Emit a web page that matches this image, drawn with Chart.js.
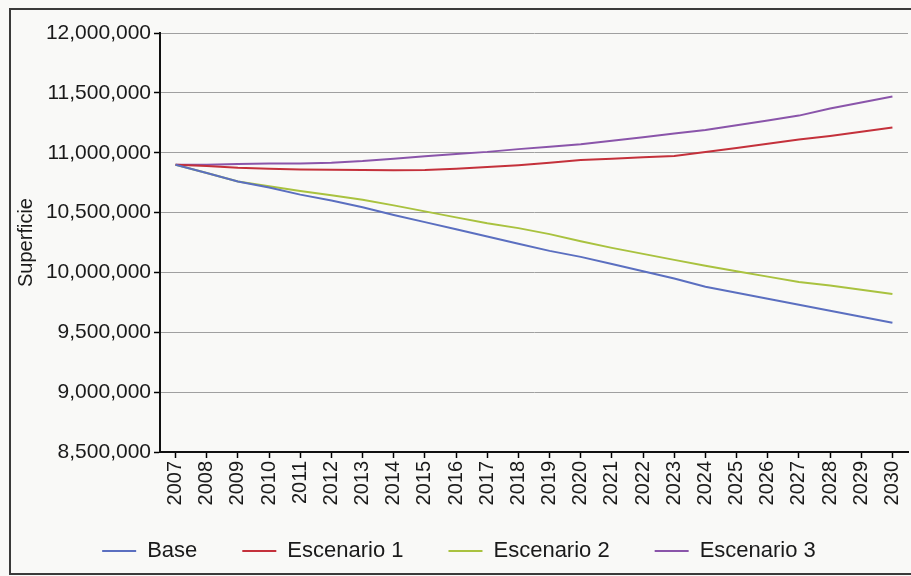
<!DOCTYPE html>
<html>
<head>
<meta charset="utf-8">
<script src="https://cdn.jsdelivr.net/npm/chart.js@4"></script>
<style>
  html, body { margin: 0; padding: 0; background: #f9f9f7; overflow: hidden; }
  #wrap { position: relative; width: 911px; height: 576px; }
  #frame { position: absolute; left: 9px; top: 8px; width: 930px; height: 563px;
           border: 2px solid #3a3a3a; pointer-events: none; }
  canvas { position: absolute; left: 0; top: 0; }
</style>
</head>
<body>
<div id="wrap">
  <canvas id="c" width="911" height="576"></canvas>
  <div id="frame"></div>
</div>
<script>
const years = ['2007','2008','2009','2010','2011','2012','2013','2014','2015','2016','2017','2018',
               '2019','2020','2021','2022','2023','2024','2025','2026','2027','2028','2029','2030'];

const base = [10900000,10830000,10760000,10710000,10650000,10600000,10545000,10480000,10420000,10360000,
              10300000,10240000,10180000,10130000,10070000,10010000,9950000,9880000,9830000,9780000,
              9730000,9680000,9630000,9580000];

const escenario1 = [10900000,10890000,10875000,10867000,10860000,10858000,10855000,10854000,10856000,10867000,
                    10880000,10896000,10917000,10940000,10950000,10963000,10973000,11005000,11040000,11075000,
                    11110000,11140000,11175000,11210000];

const escenario2 = [10900000,10830000,10760000,10720000,10680000,10645000,10607000,10560000,10510000,10460000,
                    10410000,10370000,10320000,10260000,10205000,10155000,10105000,10055000,10010000,9965000,
                    9920000,9890000,9855000,9820000];

const escenario3 = [10900000,10900000,10905000,10910000,10910000,10917000,10930000,10950000,10970000,10990000,
                    11007000,11030000,11050000,11070000,11100000,11130000,11160000,11190000,11230000,11270000,
                    11310000,11370000,11420000,11470000];

const seriesNames = ['Base','Escenario 1','Escenario 2','Escenario 3'];
const yTicks = [8500000,9000000,9500000,10000000,10500000,11000000,11500000,12000000];
const yTitle = 'Superficie';

const colors = ['#5b6fc0','#c4313b','#a9c23f','#8a55aa'];
const seriesData = [base, escenario1, escenario2, escenario3];

const FONT = '"Liberation Sans", Arial, sans-serif';
Chart.defaults.font.family = FONT;
Chart.defaults.color = '#1a1a1a';

// let the rotated year labels extend below the (shortened) x-scale box
const unclipX = {
  id: 'unclipX',
  afterLayout(chart) { chart.scales.x.bottom = chart.height; }
};

new Chart(document.getElementById('c'), {
  type: 'line',
  data: {
    labels: years,
    datasets: seriesNames.map((n, i) => ({
      label: n,
      data: seriesData[i],
      borderColor: colors[i],
      backgroundColor: colors[i],
      borderWidth: 2,
      pointRadius: 0,
      tension: 0,
      fill: false
    }))
  },
  plugins: [unclipX],
  options: {
    responsive: false,
    animation: false,
    layout: { padding: { left: 10, right: 3, top: 33, bottom: 4 } },
    plugins: {
      tooltip: { enabled: false },
      legend: {
        position: 'bottom',
        labels: {
          usePointStyle: true,
          pointStyle: 'line',
          pointStyleWidth: 34,
          padding: 45,
          font: { size: 22, family: FONT },
          color: '#1a1a1a'
        }
      }
    },
    scales: {
      x: {
        type: 'category',
        offset: true,
        grid: { display: true, drawOnChartArea: false, drawTicks: true, tickLength: 6, tickColor: '#000', tickWidth: 1.5 },
        border: { display: true, color: '#111', width: 2 },
        ticks: { maxRotation: 90, minRotation: 90, autoSkip: false, padding: 3,
                 font: { size: 20, family: FONT }, color: '#1a1a1a' },
        afterFit(scale) { scale.height = 43; scale.paddingLeft = 0; scale.paddingRight = 0; }
      },
      y: {
        min: 8500000,
        max: 12000000,
        afterBuildTicks(scale) { scale.ticks = yTicks.map(v => ({ value: v })); },
        grid: { color: '#a0a0a0', lineWidth: 1, tickLength: 6, tickColor: '#000', tickWidth: 1.5 },
        border: { display: true, color: '#111', width: 2 },
        ticks: { padding: 3, font: { size: 21, family: FONT }, color: '#1a1a1a',
                 callback: v => Number(v).toLocaleString('en-US') },
        title: { display: true, text: yTitle, font: { size: 20, family: FONT }, color: '#1a1a1a', padding: { top: 4, bottom: 2 } },
        afterFit(scale) { scale.width = 150; }
      }
    }
  }
});
</script>
</body>
</html>
